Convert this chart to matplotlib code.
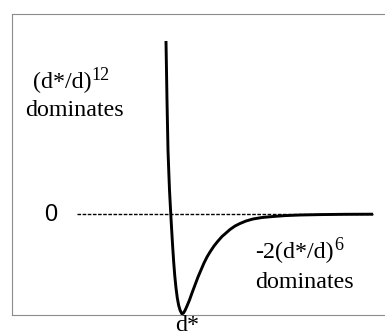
import matplotlib
matplotlib.use('Agg')
import matplotlib.pyplot as plt


# Lennard-Jones style potential
# (pixel readings: x -> d/d*, y -> V / well depth)
px_x = [166, 166.5, 167, 167.5, 168, 168.8, 169.5, 170.3, 171, 171.8,
        172.7, 173.7, 174.8, 176, 177.3, 178.7, 180.2, 182,
        183.5, 185, 187, 189.5, 192, 195, 198, 201, 204, 207, 210, 214,
        218, 222, 226, 230, 235, 240, 246, 253, 262, 273, 285, 300, 320,
        345, 373]
px_y = [41, 70, 100, 125, 150, 172, 190, 205, 218, 232,
        247, 262, 276, 288, 298, 305.5, 310.5, 314,
        313, 310.5, 306, 300, 293, 285, 277, 270, 263, 257, 252, 246,
        241, 236.5, 233, 229.5, 226, 223.5, 221, 219, 217.5, 216.5, 215.6,
        215, 214.6, 214.3, 214.2]

d = [round((x - 182) / 110 + 1, 4) for x in px_x]
V = [round((214 - y) / 100, 4) for y in px_y]

# zero reference line
zero_x = [0.045, 2.736]
zero_y = 0

W, H = 385, 335
fig = plt.figure(figsize=(W / 100, H / 100), dpi=100)


def px(x, y):
    # pixel position -> figure fraction
    return x / W, 1 - y / H


ax = fig.add_axes([12 / W, (H - 315) / H, (W - 12) / W, 301 / H])
ax.set_xlim(-0.545, 2.845)
ax.set_ylim(-1.01, 2.0)

ax.hlines(zero_y, zero_x[0], zero_x[1], colors='black', linewidth=1.0,
          linestyles=(0, (2.6, 1.1)))
ax.plot(d, V, color='black', linewidth=2.1, clip_on=False,
        solid_joinstyle='round', solid_capstyle='butt')

ax.set_xticks([])
ax.set_yticks([])
for side in ['left', 'top', 'bottom']:
    ax.spines[side].set_color('#8c8c8c')
    ax.spines[side].set_linewidth(0.8)
ax.spines['right'].set_visible(False)

serif = 'Liberation Serif'
big = 17.3
small = 13

# labels
fig.text(*px(33, 88), '(d*/d)', family=serif, fontsize=big, va='baseline')
fig.text(*px(91, 80), '12', family=serif, fontsize=small, va='baseline')
fig.text(*px(25, 116.5), 'dominates', family=serif, fontsize=big, va='baseline')

fig.text(*px(255, 258), '-2(d*/d)', family=serif, fontsize=big, va='baseline')
fig.text(*px(334, 250), '6', family=serif, fontsize=small, va='baseline')
fig.text(*px(255, 288), 'dominates', family=serif, fontsize=big, va='baseline')

fig.text(*px(51, 221), '0', family='Liberation Sans', fontsize=17,
         ha='center', va='baseline')
fig.text(*px(175, 331), 'd*', family=serif, fontsize=big, va='baseline')

fig.savefig('out.png', dpi=100)
